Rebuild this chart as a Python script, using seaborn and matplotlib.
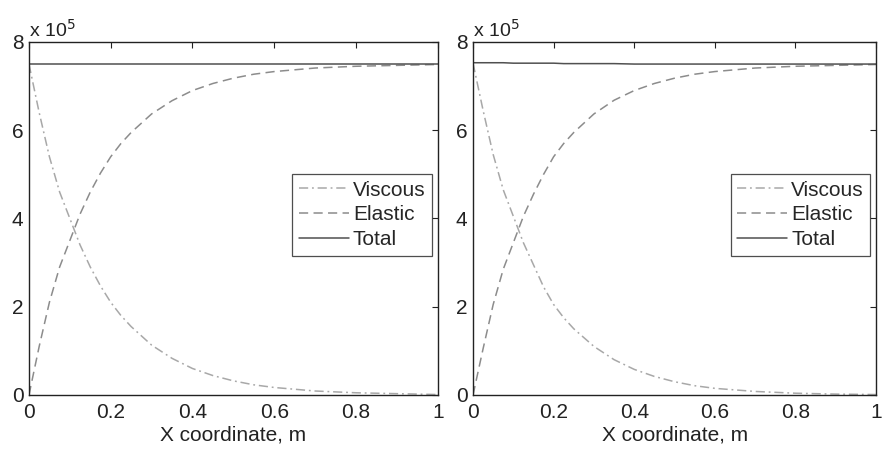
import numpy as np
import pandas as pd
import matplotlib
matplotlib.use('Agg')
import matplotlib.pyplot as plt
import seaborn as sns
from matplotlib.ticker import FuncFormatter

# values (units: Pa, axis shows x 10^5)
x_coord = [0, 0.025, 0.05, 0.075, 0.1, 0.125, 0.15, 0.175, 0.2, 0.225, 0.25, 0.3, 0.35, 0.4, 0.45,
           0.5, 0.55, 0.6, 0.7, 0.8, 0.9, 1.0]
viscous_l = [7.5, 6.4, 5.4, 4.6, 4.0, 3.4, 2.9, 2.47, 2.1, 1.8, 1.55, 1.13, 0.83, 0.6, 0.44,
             0.32, 0.23, 0.17, 0.09, 0.05, 0.03, 0.01]
elastic_l = [0, 1.1, 2.1, 2.9, 3.5, 4.1, 4.6, 5.03, 5.4, 5.7, 5.95, 6.37, 6.67, 6.9, 7.06,
             7.18, 7.27, 7.33, 7.41, 7.45, 7.47, 7.49]
total_l = [7.5] * len(x_coord)

viscous_r = [7.52, 6.45, 5.45, 4.65, 4.05, 3.45, 2.95, 2.45, 2.05, 1.75, 1.5, 1.1, 0.8, 0.58, 0.42,
             0.3, 0.21, 0.15, 0.08, 0.04, 0.02, 0.01]
elastic_r = [0, 1.05, 2.05, 2.85, 3.45, 4.05, 4.55, 5.0, 5.4, 5.7, 5.95, 6.37, 6.68, 6.9, 7.06,
             7.18, 7.27, 7.33, 7.41, 7.45, 7.47, 7.49]
total_r = [7.53, 7.53, 7.53, 7.53, 7.52, 7.52, 7.52, 7.52, 7.52, 7.51, 7.51, 7.51, 7.51, 7.5, 7.5,
           7.5, 7.5, 7.5, 7.5, 7.5, 7.5, 7.5]

scale = 1e5
xticks = [0, 0.2, 0.4, 0.6, 0.8, 1]
xticklabels = ['0', '0.2', '0.4', '0.6', '0.8', '1']
yticks = [0, 2, 4, 6, 8]

sns.set_style("white")
plt.rcParams['font.family'] = ['Liberation Sans', 'DejaVu Sans']
fs = 15

fig = plt.figure(figsize=(8.83, 4.54), dpi=100)
ax1 = fig.add_axes([0.0328, 0.130, 0.463, 0.7775])
ax2 = fig.add_axes([0.5357, 0.130, 0.4565, 0.7775])

def draw(ax, visc, elas, tot):
    df = pd.DataFrame({'x': x_coord,
                       'Viscous': np.array(visc) * scale,
                       'Elastic': np.array(elas) * scale,
                       'Total': np.array(tot) * scale})
    sns.lineplot(data=df, x='x', y='Viscous', ax=ax, color='#a8a8a8', lw=1.1,
                 linestyle=(0, (6, 2.5, 1.2, 2.5)), label='Viscous')
    sns.lineplot(data=df, x='x', y='Elastic', ax=ax, color='#8c8c8c', lw=1.1,
                 linestyle=(0, (6, 3.5)), label='Elastic')
    sns.lineplot(data=df, x='x', y='Total', ax=ax, color='#505050', lw=1.1,
                 linestyle='-', label='Total')
    ax.set_xlim(0, 1)
    ax.set_ylim(0, 8 * scale)
    ax.set_xticks(xticks)
    ax.set_xticklabels(xticklabels)
    ax.set_yticks([t * scale for t in yticks])
    ax.yaxis.set_major_formatter(FuncFormatter(lambda v, p: '%g' % (v / scale)))
    ax.tick_params(direction='in', top=True, right=True, length=4, width=0.8,
                   labelsize=fs, colors='#222222', pad=4)
    ax.tick_params(axis='x', pad=6)
    for s in ax.spines.values():
        s.set_color('#222222')
        s.set_linewidth(1.0)
        s.set_visible(True)
    ax.set_xlabel('X coordinate, m', fontsize=fs, color='#222222', labelpad=2)
    ax.set_ylabel('')
    ax.text(0, 1.003, r'x 10$^5$', transform=ax.transAxes, fontsize=fs - 1,
            color='#222222', ha='left', va='bottom')
    leg = ax.legend(loc='upper right', bbox_to_anchor=(0.985, 0.625), fontsize=fs,
                    frameon=True, fancybox=False, edgecolor='#222222',
                    handlelength=2.4, handletextpad=0.2, borderpad=0.3,
                    labelspacing=0.28, borderaxespad=0)
    leg.get_frame().set_linewidth(0.9)

draw(ax1, viscous_l, elastic_l, total_l)
draw(ax2, viscous_r, elastic_r, total_r)

fig.savefig('out.png', dpi=100, facecolor='white')
